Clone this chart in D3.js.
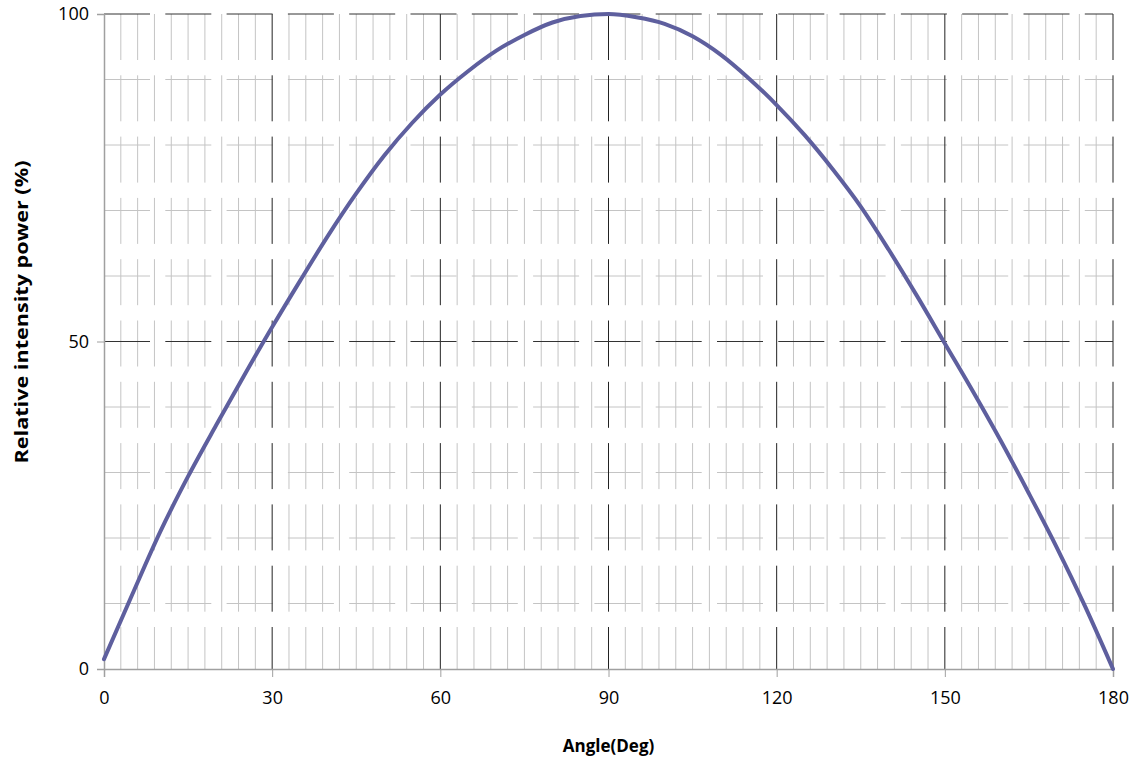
<!DOCTYPE html>
<html lang="en">
<head>
    <meta charset="UTF-8">
    <title>Relative intensity power vs angle</title>
    <script src="https://d3js.org/d3.v7.min.js"></script>
    <style>
        body {
            margin: 0;
            background-color: #ffffff;
            font-family: "Open Sans", Arial, sans-serif;
        }
        svg {
            display: block;
        }
        .tick-label {
            font-size: 18px;
            fill: #000;
        }
        .axis-title {
            font-size: 17px;
            font-weight: bold;
            fill: #000;
        }
    </style>
</head>
<body>
    <svg></svg>

    <script>
        // data
        const angles = [0, 5, 10, 15, 20, 25, 30, 35, 40, 45, 50, 55, 60, 65, 70, 75, 80, 85, 90,
                        95, 100, 105, 110, 115, 120, 125, 130, 135, 140, 145, 150, 155, 160, 165, 170, 175, 180];
        const intensity = [1.5, 11.3, 20.9, 29.4, 37.2, 44.8, 52.2, 59.3, 66.2, 72.6, 78.4, 83.4, 87.7, 91.3, 94.4, 96.8, 98.7, 99.7, 100,
                           99.5, 98.5, 96.6, 93.8, 90.2, 86.1, 81.5, 76.3, 70.6, 64.0, 57.0, 49.7, 42.4, 34.8, 26.8, 18.5, 9.6, 0];

        const xMajorTicks = [0, 30, 60, 90, 120, 150, 180];
        const yMajorTicks = [0, 50, 100];
        const xMinorTicks = d3.range(0, 181, 3);          // minor grid every 3 deg
        const yMinorTicks = [10, 20, 30, 40, 60, 70, 80, 90];

        const W = 1141, H = 765;
        const margin = { top: 14, right: 28, bottom: 96, left: 104 };

        const svg = d3.select("svg")
            .attr("width", W)
            .attr("height", H);

        const x = d3.scaleLinear()
            .domain([0, 180])
            .range([margin.left, W - margin.right]);

        const y = d3.scaleLinear()
            .domain([0, 100])
            .range([H - margin.bottom, margin.top]);

        const dash = "46,15.3";

        // minor vertical grid
        svg.append("g")
            .selectAll("line")
            .data(xMinorTicks.filter(d => d % 30 !== 0))
            .enter().append("line")
            .attr("x1", d => x(d)).attr("x2", d => x(d))
            .attr("y1", y(100)).attr("y2", y(0))
            .attr("stroke", "#c4c4c4")
            .attr("stroke-width", 1)
            .attr("stroke-dasharray", dash);

        // minor horizontal grid
        svg.append("g")
            .selectAll("line")
            .data(yMinorTicks)
            .enter().append("line")
            .attr("x1", x(0)).attr("x2", x(180))
            .attr("y1", d => y(d)).attr("y2", d => y(d))
            .attr("stroke", "#c4c4c4")
            .attr("stroke-width", 1)
            .attr("stroke-dasharray", dash);

        // major vertical grid
        svg.append("g")
            .selectAll("line")
            .data(xMajorTicks.filter(d => d > 0))
            .enter().append("line")
            .attr("x1", d => x(d)).attr("x2", d => x(d))
            .attr("y1", y(100)).attr("y2", y(0))
            .attr("stroke", "#222")
            .attr("stroke-width", 1)
            .attr("stroke-dasharray", dash);

        // major horizontal grid
        svg.append("g")
            .selectAll("line")
            .data(yMajorTicks.filter(d => d > 0))
            .enter().append("line")
            .attr("x1", x(0)).attr("x2", x(180))
            .attr("y1", d => y(d)).attr("y2", d => y(d))
            .attr("stroke", "#333")
            .attr("stroke-width", 1)
            .attr("stroke-dasharray", dash);

        // axes
        const xAxis = svg.append("g")
            .attr("transform", "translate(0," + y(0) + ")")
            .call(d3.axisBottom(x).tickValues(xMajorTicks).tickSize(8).tickPadding(14));

        const yAxis = svg.append("g")
            .attr("transform", "translate(" + x(0) + ",0)")
            .call(d3.axisLeft(y).tickValues(yMajorTicks).tickSize(7).tickPadding(8));

        [xAxis, yAxis].forEach(a => {
            a.attr("font-family", null).attr("font-size", null);
            a.select(".domain").attr("stroke", "#a0a0a0").attr("stroke-width", 1.5);
            a.selectAll(".tick line").attr("stroke", "#a0a0a0");
            a.selectAll(".tick text").attr("class", "tick-label");
        });

        // curve
        const line = d3.line()
            .x((d, i) => x(angles[i]))
            .y(d => y(d))
            .curve(d3.curveMonotoneX);

        svg.append("path")
            .datum(intensity)
            .attr("fill", "none")
            .attr("stroke", "#5e5f9e")
            .attr("stroke-width", 4)
            .attr("stroke-linejoin", "round")
            .attr("stroke-linecap", "round")
            .attr("d", line);

        // titles
        svg.append("text")
            .attr("class", "axis-title")
            .attr("x", x(90))
            .attr("y", 752)
            .attr("text-anchor", "middle")
            .text("Angle(Deg)");

        svg.append("text")
            .attr("class", "axis-title")
            .attr("transform", "translate(28,312) rotate(-90)")
            .attr("text-anchor", "middle")
            .style("font-size", "18px")
            .attr("textLength", 303)
            .attr("lengthAdjust", "spacingAndGlyphs")
            .text("Relative intensity power (%)");
    </script>
</body>
</html>
